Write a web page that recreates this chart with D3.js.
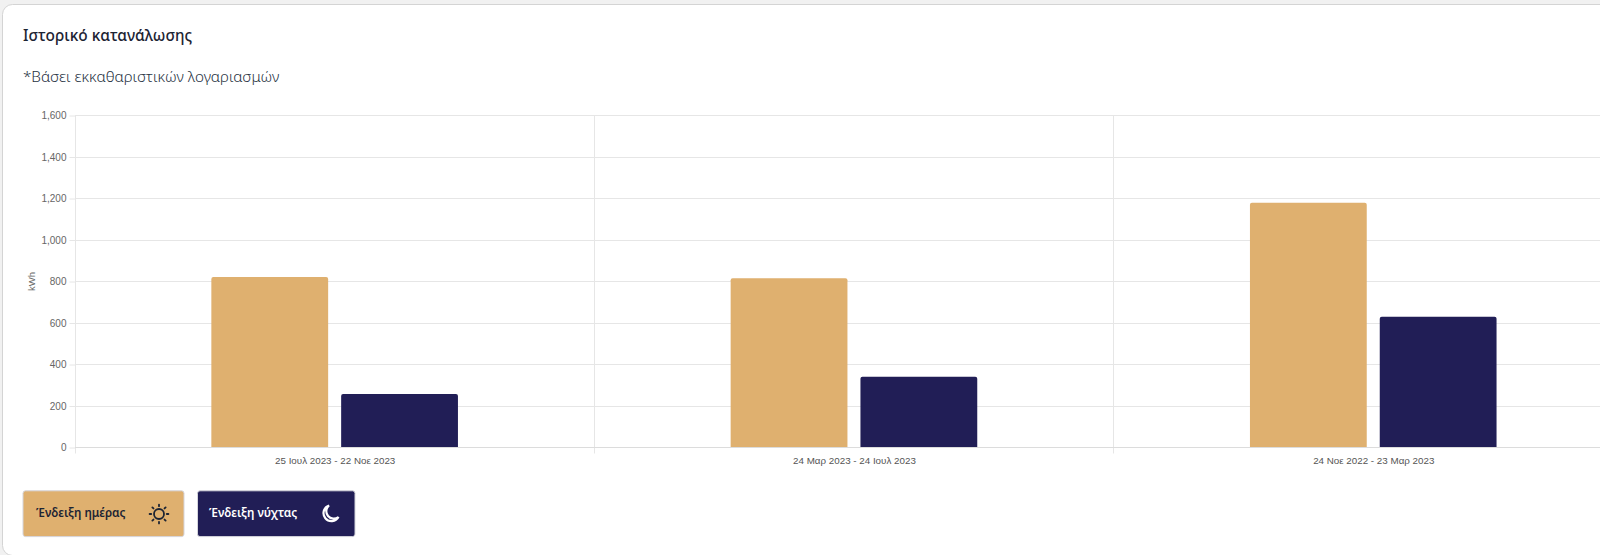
<!DOCTYPE html>
<html lang="el"><head><meta charset="utf-8">
<script src="https://cdnjs.cloudflare.com/ajax/libs/d3/7.8.5/d3.min.js"></script>
<style>html,body{margin:0;padding:0;background:#f1f1f1;overflow:hidden}svg{display:block}</style>
</head><body><svg id="c" width="1600" height="555"></svg>
<script>
const categories = ["25 Ιουλ 2023 - 22 Νοε 2023","24 Μαρ 2023 - 24 Ιουλ 2023","24 Νοε 2022 - 23 Μαρ 2023"];
const dayValues = [822, 816, 1179];
const nightValues = [258, 341, 630];
const yTicks = [0,200,400,600,800,1000,1200,1400,1600];
const seriesNames = ["Ένδειξη ημέρας","Ένδειξη νύχτας"];
const yLabel = "kWh";
const titleText = "Ιστορικό κατανάλωσης";
const subtitleText = "*Βάσει εκκαθαριστικών λογαριασμών";

const svg = d3.select("#c");
const DAY="#dfb06f", NIGHT="#211e56", GRID="#e6e6e6";
const font="'Noto Sans', Lato, sans-serif", axisFont="'Liberation Sans', Arial, sans-serif";

svg.append("rect").attr("x",2.5).attr("y",4.5).attr("width",1640).attr("height",551).attr("rx",10)
  .attr("fill","#fff").attr("stroke","#d4d4d4");
svg.append("text").attr("x",23).attr("y",40.5).attr("font-family",font).attr("font-size",15.4).attr("font-weight",500).attr("fill","#1d2433").text(titleText);
svg.append("text").attr("x",23).attr("y",82).attr("font-family",font).attr("font-size",15.2).attr("font-weight",300).attr("fill","#27323f").text(subtitleText);

const x0=75, band=519.3, y0=447.5, yTop=115.5;
const x=d3.scaleBand().domain(categories).range([x0,x0+band*categories.length]);
const y=d3.scaleLinear().domain([0,1600]).range([y0,yTop]);
const barW=116.8, offset=6.5;
const snap=v=>Math.floor(v)+.5;

const gy=svg.append("g").attr("transform",`translate(${snap(x0)},0)`)
  .call(d3.axisLeft(y).tickValues(yTicks).tickSize(6).tickPadding(3).tickFormat(d3.format(",")));
gy.select(".domain").remove();
gy.selectAll("line").attr("stroke",GRID);
gy.selectAll("text").attr("font-family",axisFont).attr("font-size",10).attr("fill","#666").attr("dy","0.3em");
svg.append("g").selectAll("line").data(yTicks).join("line")
  .attr("x1",x0).attr("x2",1600).attr("y1",d=>snap(y(d))).attr("y2",d=>snap(y(d))).attr("stroke",GRID);
svg.append("g").selectAll("line").data(d3.range(categories.length+1)).join("line")
  .attr("x1",i=>snap(x0+i*band)).attr("x2",i=>snap(x0+i*band)).attr("y1",yTop).attr("y2",y0+6).attr("stroke",GRID);

const gx=svg.append("g").attr("transform",`translate(0.5,${y0})`)
  .call(d3.axisBottom(x).tickSize(0).tickPadding(10));
gx.select(".domain").remove();
gx.selectAll("text").attr("font-family",axisFont).attr("font-size",9.8).attr("fill","#555");

svg.append("text").attr("transform",`translate(35,${(y0+yTop)/2}) rotate(-90)`).attr("text-anchor","middle")
  .attr("font-family",axisFont).attr("font-size",9.5).attr("fill","#666").text(yLabel);

function topRound(xx,w,yy,h,r){return `M${xx},${yy+h}V${yy+r}Q${xx},${yy} ${xx+r},${yy}H${xx+w-r}Q${xx+w},${yy} ${xx+w},${yy+r}V${yy+h}Z`;}
const cx=d=>x(d)+x.bandwidth()/2;
svg.append("g").selectAll("path").data(categories).join("path")
  .attr("d",(c,i)=>topRound(cx(c)-offset-barW,barW,y(dayValues[i]),y0-y(dayValues[i]),2)).attr("fill",DAY);
svg.append("g").selectAll("path").data(categories).join("path")
  .attr("d",(c,i)=>topRound(cx(c)+offset,barW,y(nightValues[i]),y0-y(nightValues[i]),2)).attr("fill",NIGHT);
svg.append("line").attr("x1",x0).attr("x2",1600).attr("y1",snap(y0)).attr("y2",snap(y0)).attr("stroke","#dcdcdc");

// legend buttons
const lg=[{x:23,w:161,fill:DAY,tc:"#1d2433",tx:36},{x:197.5,w:157.5,fill:NIGHT,tc:"#fff",tx:209}];
svg.append("g").selectAll("rect").data(lg).join("rect").attr("x",d=>d.x).attr("y",490.8).attr("width",d=>d.w).attr("height",45.8).attr("rx",2.5)
  .attr("fill",d=>d.fill).attr("stroke","#d5d5dc");
svg.append("g").selectAll("text").data(lg).join("text").attr("x",d=>d.tx).attr("y",517).attr("font-family",font).attr("font-size",11.7).attr("font-weight",600)
  .attr("fill",d=>d.tc).text((d,i)=>seriesNames[i]);
const sun=svg.append("g").attr("transform","translate(159,514)").attr("stroke","#1d2433").attr("fill","none").attr("stroke-width",1.8);
sun.append("circle").attr("r",5);
d3.range(8).forEach(k=>{const a=k*Math.PI/4;sun.append("line").attr("x1",7.8*Math.cos(a)).attr("y1",7.8*Math.sin(a)).attr("x2",9.4*Math.cos(a)).attr("y2",9.4*Math.sin(a)).attr("stroke-linecap","round");});
svg.append("path").attr("transform","translate(331,513.5)").attr("d","M-2,-8A8,8 0 1 0 7.5,3.5A7,7 0 0 1 -2,-8Z").attr("fill","none").attr("stroke","#fff").attr("stroke-width",2.2);
</script></body></html>
